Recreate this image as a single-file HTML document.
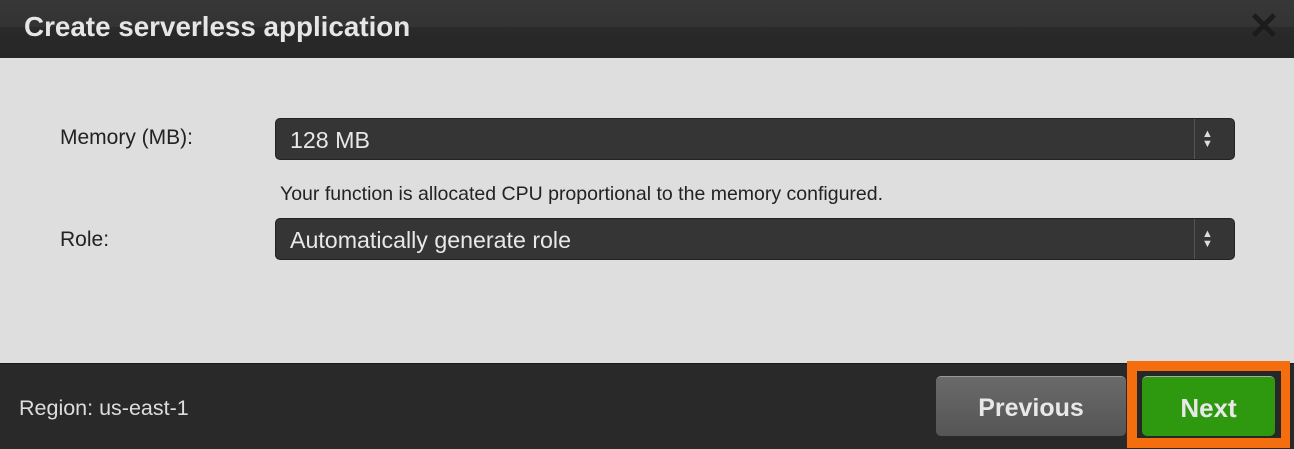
<!DOCTYPE html>
<html><head><style>
body{margin:0;width:1294px;height:448px;background:#dedede;font-family:"Liberation Sans",sans-serif;position:relative;overflow:hidden}
.abs{position:absolute}
.hdr{left:0;top:0;width:1294px;height:58px;background:linear-gradient(#373737 0,#333 27px,#2a2a2a 27px,#262626 58px)}
.title{left:24px;top:11px;color:#e6e6e6;font-weight:bold;font-size:27.8px}
.lbl{color:#222;font-size:21px}
.sel{left:275px;width:960px;height:42px;background:#353535;border:1px solid #222;border-radius:5px;color:#e8e8e8;font-size:23.2px;box-sizing:border-box}
.sel span{position:absolute;left:14px;top:8px}
.sel i{position:absolute;left:918px;top:0;width:1px;height:40px;background:#555}
.sel b{position:absolute;left:926px;top:10px;color:#ddd;font-size:11px;line-height:10px;font-style:normal}
.ftr{left:0;top:363px;width:1294px;height:85px;background:#292929;border-top:1px solid #1a1a1a}
</style></head><body>
<div class="abs hdr"></div>
<div class="abs title">Create serverless application</div>
<div class="abs" style="left:1248px;top:8px;color:#1c1c1c;font-size:38px;line-height:38px;font-weight:bold">✕</div>
<div class="abs lbl" style="left:60px;top:126px">Memory (MB):</div>
<div class="abs sel" style="top:118px"><span>128 MB</span><i></i><b>▲<br>▼</b></div>
<div class="abs" style="left:280px;top:183px;font-size:19.5px;color:#222">Your function is allocated CPU proportional to the memory configured.</div>
<div class="abs lbl" style="left:60px;top:228px">Role:</div>
<div class="abs sel" style="top:218px"><span>Automatically generate role</span><i></i><b>▲<br>▼</b></div>
<div class="abs ftr"></div>
<div class="abs" style="left:19px;top:396px;color:#ddd;font-size:21.5px">Region: us-east-1</div>
<div class="abs" style="left:936px;top:376px;width:190px;height:60px;border-radius:5px;background:linear-gradient(#6a6a6a,#555);border-top:1px solid #999;box-sizing:border-box;color:#e8e8e8;font-weight:bold;font-size:25px;text-align:center;line-height:62px">Previous</div>
<div class="abs" style="left:1127px;top:361px;width:163px;height:87px;background:#f46d0e"></div>
<div class="abs" style="left:1137px;top:371px;width:144px;height:67px;background:#272727"></div>
<div class="abs" style="left:1142px;top:376px;width:133px;height:60px;border-radius:5px;background:#2e990e;border-top:1px solid #aaa;box-sizing:border-box;color:#e8e8e8;font-weight:bold;font-size:26px;text-align:center;line-height:62px">Next</div>
</body></html>
